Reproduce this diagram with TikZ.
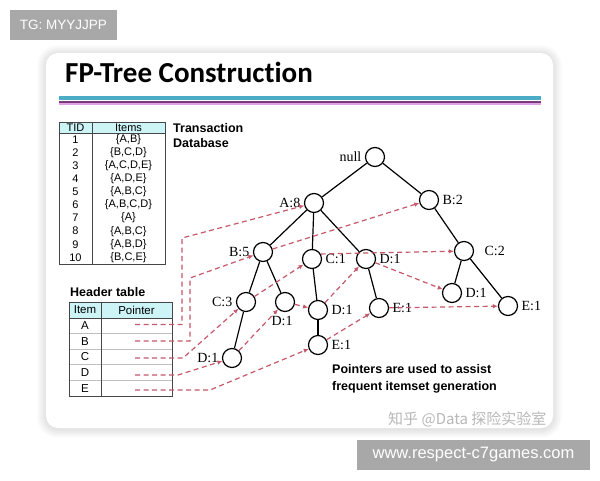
\documentclass[tikz,border=0pt]{standalone}
\usepackage{fontspec}
\setmainfont{Liberation Serif}
\newfontfamily\arialf{Liberation Sans}
\newfontfamily\titlef[Ligatures={NoCommon}]{Carlito}
\newfontfamily\cjkf{Noto Sans CJK SC}
\usetikzlibrary{arrows.meta}
\definecolor{ptr}{RGB}{198,88,105}
\definecolor{hdrfill}{RGB}{205,244,247}
\definecolor{tealline}{RGB}{75,172,198}
\definecolor{purpline}{RGB}{120,60,120}
\definecolor{pinkline}{RGB}{225,160,225}
\definecolor{tagbg}{RGB}{168,168,168}
\definecolor{tblline}{RGB}{70,70,70}
\tikzset{
  tnode/.style={circle,draw,line width=1.2pt,minimum size=19pt,inner sep=0pt,
    label distance=0.5pt},
  tlab/.style={font=\fontsize{14}{14}\selectfont},
  tedge/.style={line width=1.2pt},
  ptrline/.style={draw=ptr,dash pattern=on 5pt off 3.5pt,line width=1.2pt,
    -{Latex[length=5pt,width=4.5pt]}},
  cell/.style={font=\arialf\fontsize{11}{11}\selectfont,inner sep=0pt},
  hcell/.style={font=\arialf\fontsize{11.5}{11.5}\selectfont,inner sep=0pt},
  boldtxt/.style={font=\arialf\bfseries\fontsize{12.5}{12.5}\selectfont,inner sep=0pt,anchor=west},
  tag/.style={fill=tagbg,text=white,font=\arialf,inner sep=0pt}
}
\begin{document}
\begin{tikzpicture}[x=1pt,y=-1pt]
\useasboundingbox (0,0) rectangle (600,480);
\fill[white] (0,0) rectangle (600,480);
% card shadow
\foreach \i in {1,...,9}
  \fill[black,opacity=0.011,rounded corners=12+\i] (46-\i,53-\i+1) rectangle (553+\i,428+\i+1);
\fill[white,rounded corners=12] (46,53) rectangle (553,428);
% title and rules
\node[anchor=west,inner sep=0pt,font=\titlef\bfseries\fontsize{29}{29}\selectfont] (title) at (65,72.5) {FP-Tree Construction};
\fill[tealline] (59,96) rectangle (541,99.6);
\fill[pinkline] (59,102) rectangle (541,104.5);
\fill[purpline] (59,101.3) rectangle (541,103);
% tags
\node[tag,minimum width=107pt,minimum height=30pt,font=\arialf\fontsize{13.5}{13.5}\selectfont] (tg) at (63.5,25) {TG: MYYJJPP};
\node[tag,minimum width=233pt,minimum height=30pt,font=\arialf\fontsize{16.5}{16.5}\selectfont] (www) at (473.5,455) {www.respect-c7games.com};
% watermark
\node[anchor=west,inner sep=0pt,text=black!28,font=\cjkf\fontsize{15}{15}\selectfont] (wm) at (388,419) {知乎 @Data 探险实验室};
% transaction table
\fill[hdrfill] (59,122) rectangle (165,133);
\draw[tblline,line width=0.9pt] (59,122) rectangle (165,264);
\draw[tblline,line width=0.9pt] (92,122) -- (92,264);
\draw[tblline,line width=0.7pt] (59,133) -- (165,133);
\node[cell] (th1) at (75.5,127.5) {TID};
\node[cell] (th2) at (128.5,127.5) {Items};
\node[cell] (t1) at (75.5,139.5) {1};   \node[cell] (i1) at (128.5,139.5) {\{A,B\}};
\node[cell] (t2) at (75.5,152.6) {2};   \node[cell] (i2) at (128.5,152.6) {\{B,C,D\}};
\node[cell] (t3) at (75.5,165.7) {3};   \node[cell] (i3) at (128.5,165.7) {\{A,C,D,E\}};
\node[cell] (t4) at (75.5,178.8) {4};   \node[cell] (i4) at (128.5,178.8) {\{A,D,E\}};
\node[cell] (t5) at (75.5,191.9) {5};   \node[cell] (i5) at (128.5,191.9) {\{A,B,C\}};
\node[cell] (t6) at (75.5,205.0) {6};   \node[cell] (i6) at (128.5,205.0) {\{A,B,C,D\}};
\node[cell] (t7) at (75.5,218.1) {7};   \node[cell] (i7) at (128.5,218.1) {\{A\}};
\node[cell] (t8) at (75.5,231.2) {8};   \node[cell] (i8) at (128.5,231.2) {\{A,B,C\}};
\node[cell] (t9) at (75.5,244.3) {9};   \node[cell] (i9) at (128.5,244.3) {\{A,B,D\}};
\node[cell] (t10) at (75.5,257.4) {10}; \node[cell] (i10) at (128.5,257.4) {\{B,C,E\}};
\node[boldtxt] (trans) at (173,128) {Transaction};
\node[boldtxt] (db) at (173,143) {Database};
% header table
\node[boldtxt] (htitle) at (70,292) {Header table};
\fill[hdrfill] (69,302) rectangle (172,318);
\foreach \yy in {333.6,349.2,364.8,380.4}
  \draw[black!25,line width=0.7pt] (69,\yy) -- (172,\yy);
\draw[tblline,line width=0.9pt] (69,302) rectangle (172,396);
\draw[tblline,line width=0.9pt] (101,302) -- (101,396);
\draw[tblline,line width=0.7pt] (69,318) -- (172,318);
\node[hcell] (hi) at (85,310) {Item};
\node[hcell] (hp) at (136.5,310) {Pointer};
\node[hcell] (hA) at (85,325.8) {A};
\node[hcell] (hB) at (85,341.4) {B};
\node[hcell] (hC) at (85,357) {C};
\node[hcell] (hD) at (85,372.6) {D};
\node[hcell] (hE) at (85,388.2) {E};
\coordinate (pA) at (135,324.5);
\coordinate (pB) at (135,341);
\coordinate (pC) at (135,358);
\coordinate (pD) at (135,375);
\coordinate (pE) at (135,390);
% tree nodes
\node[tnode,label={[tlab]left:null}] (n0) at (375,157) {};
\node[tnode,label={[tlab]left:A:8}] (a8) at (314,203) {};
\node[tnode,label={[tlab]right:B:2}] (b2) at (429,200) {};
\node[tnode,label={[tlab]left:B:5}] (b5) at (263,252) {};
\node[tnode,label={[tlab]right:C:1}] (c1) at (312,259) {};
\node[tnode,label={[tlab]right:D:1}] (d1a) at (366,259) {};
\node[tnode,label={[tlab,label distance=7pt]right:C:2}] (c2) at (464,251) {};
\node[tnode,label={[tlab]left:C:3}] (c3) at (246,302) {};
\node[tnode,label={[tlab,label distance=1pt,xshift=-3pt]below:D:1}] (d1b) at (285,302) {};
\node[tnode,label={[tlab]right:D:1}] (d1c) at (318,310) {};
\node[tnode,label={[tlab]right:E:1}] (e1a) at (379,308) {};
\node[tnode,label={[tlab]right:D:1}] (d1d) at (452,293) {};
\node[tnode,label={[tlab]right:E:1}] (e1b) at (508,306) {};
\node[tnode,label={[tlab]left:D:1}] (d1e) at (232,358) {};
\node[tnode,label={[tlab]right:E:1}] (e1c) at (318,345) {};
% tree edges
\draw[tedge] (n0) -- (a8);
\draw[tedge] (n0) -- (b2);
\draw[tedge] (a8) -- (b5);
\draw[tedge] (a8) -- (c1);
\draw[tedge] (a8) -- (d1a);
\draw[tedge] (b5) -- (c3);
\draw[tedge] (b5) -- (d1b);
\draw[tedge] (c3) -- (d1e);
\draw[tedge] (c1) -- (d1c);
\draw[tedge] (d1c) -- (e1c);
\draw[tedge] (d1a) -- (e1a);
\draw[tedge] (b2) -- (c2);
\draw[tedge] (c2) -- (d1d);
\draw[tedge] (c2) -- (e1b);
% header pointers
\draw[ptrline] (pA) -- (182,324.5) -- (182,238) -- (a8);
\draw[ptrline] (pB) -- (190,341) -- (190,278) -- (b5);
\draw[ptrline] (pC) -- (183,358) -- (c3);
\draw[ptrline] (pD) -- (178,375) -- (d1e);
\draw[ptrline] (pE) -- (210,390) -- (e1c);
% node links
\draw[ptrline] (b5) -- (b2);
\draw[ptrline] (c3) -- (c1);
\draw[ptrline] (c1.30) -- (c2);
\draw[ptrline] (d1e) -- (d1b);
\draw[ptrline] (d1b) -- (d1c);
\draw[ptrline] (d1c) -- (d1a);
\draw[ptrline] (d1a) -- (d1d);
\draw[ptrline] (e1c) -- (e1a);
\draw[ptrline] (e1a) -- (e1b);
% note
\node[boldtxt] (note1) at (332,369) {Pointers are used to assist};
\node[boldtxt] (note2) at (332,387) {frequent itemset generation};
\end{tikzpicture}
\end{document}
